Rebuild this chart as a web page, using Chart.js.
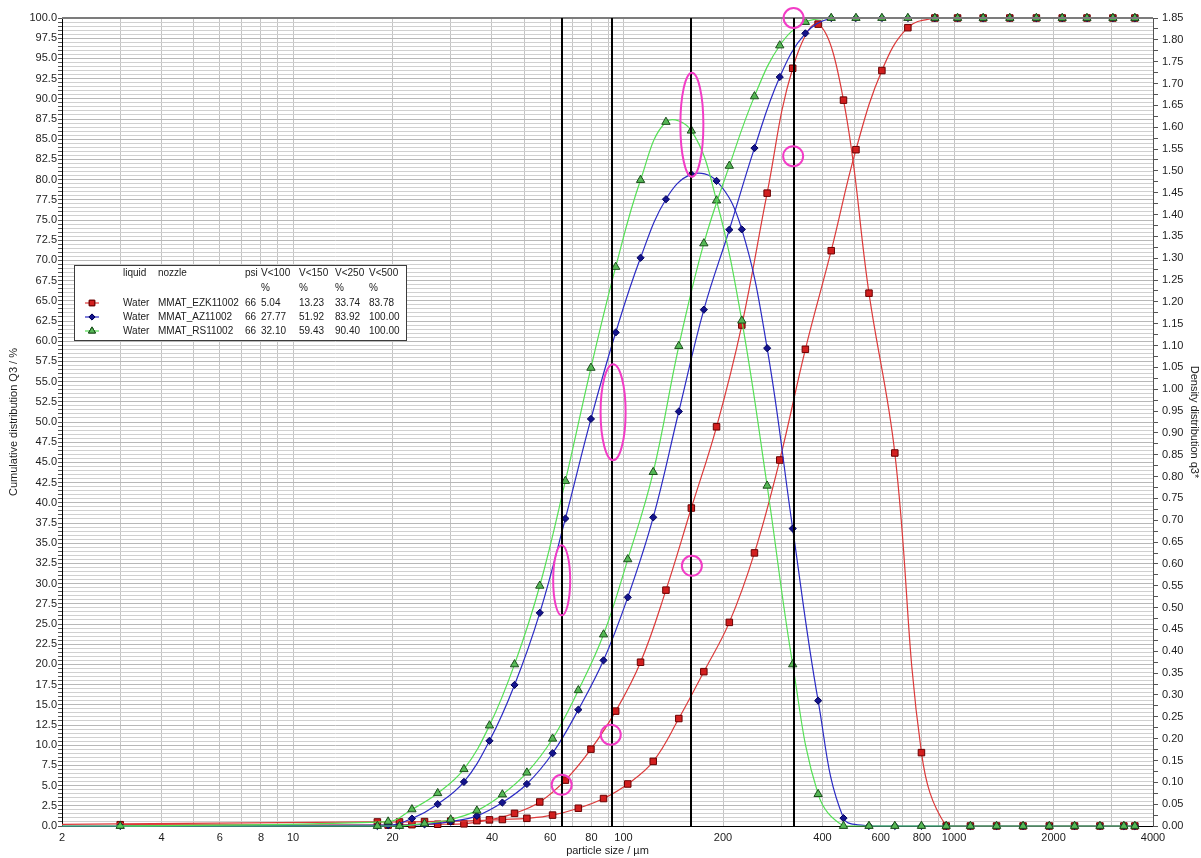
<!DOCTYPE html>
<html>
<head>
<meta charset="utf-8">
<title>particle size distribution</title>
<script src="https://cdn.jsdelivr.net/npm/chart.js@4.4.1/dist/chart.umd.min.js"></script>
<style>
  html, body { margin: 0; padding: 0; background: #fff; }
  #wrap { width: 1201px; height: 858px; }
</style>
</head>
<body>
<div id="wrap"><canvas id="psd" width="1201" height="858"></canvas></div>
<script>
// class upper edges (cumulative Q3) and class centres (density q3*), µm
const cumSizes = [0.5, 18, 21, 25, 30, 36, 43, 51, 61, 73, 87, 103, 123, 147, 175, 209, 249, 297, 355, 425, 505, 605, 725, 875, 1025, 1225, 1475, 1775, 2125, 2525, 3025, 3525];
const denSizes = [3, 19.4, 22.9, 27.4, 32.9, 39.3, 46.8, 55.8, 66.7, 79.7, 94.7, 112.6, 134.4, 160.4, 191.2, 228, 272, 325, 388, 463, 553, 662, 797, 947, 1121, 1345, 1618, 1942, 2316, 2764, 3265, 3525];

// MMAT_EZK11002
const ezkCum = [0, 0.5, 0.5, 0.55, 0.6, 0.66, 0.8, 0.95, 1.35, 2.2, 3.4, 5.2, 8.0, 13.3, 19.1, 25.2, 33.8, 45.3, 59.0, 71.2, 83.7, 93.5, 98.8, 100, 100, 100, 100, 100, 100, 100, 100, 100];
const ezkDen = [0.003, 0.002, 0.003, 0.004, 0.005, 0.014, 0.029, 0.055, 0.105, 0.176, 0.263, 0.375, 0.54, 0.728, 0.914, 1.147, 1.449, 1.735, 1.836, 1.662, 1.22, 0.854, 0.168, 0, 0, 0, 0, 0, 0, 0, 0, 0];
// MMAT_AZ11002
const azCum = [0, 0, 0.05, 0.2, 0.55, 1.25, 2.9, 5.2, 9.0, 14.4, 20.5, 28.3, 38.2, 51.3, 63.9, 73.8, 83.9, 92.7, 98.1, 100, 100, 100, 100, 100, 100, 100, 100, 100, 100, 100, 100, 100];
const azDen = [0, 0.002, 0.017, 0.05, 0.101, 0.195, 0.323, 0.488, 0.704, 0.932, 1.13, 1.301, 1.435, 1.492, 1.477, 1.366, 1.094, 0.681, 0.287, 0.018, 0, 0, 0, 0, 0, 0, 0, 0, 0, 0, 0, 0];
// MMAT_RS11002
const rsCum = [0, 0, 0, 0.3, 0.8, 1.9, 3.9, 6.6, 10.8, 16.8, 23.7, 33.0, 43.8, 59.4, 72.1, 81.7, 90.3, 96.6, 99.5, 100, 100, 100, 100, 100, 100, 100, 100, 100, 100, 100, 100, 100];
const rsDen = [0, 0.010, 0.038, 0.075, 0.13, 0.23, 0.37, 0.55, 0.79, 1.049, 1.28, 1.479, 1.612, 1.592, 1.432, 1.157, 0.779, 0.37, 0.073, 0, 0, 0, 0, 0, 0, 0, 0, 0, 0, 0, 0, 0];

// legend table
const liquids = ['Water', 'Water', 'Water'];
const nozzles = ['MMAT_EZK11002', 'MMAT_AZ11002', 'MMAT_RS11002'];
const pressures = ['66', '66', '66'];
const below100 = ['5.04', '27.77', '32.10'];
const below150 = ['13.23', '51.92', '59.43'];
const below250 = ['33.74', '83.92', '90.40'];
const below500 = ['83.78', '100.00', '100.00'];

// x axis ticks
const xGrid = [2, 3, 4, 5, 6, 7, 8, 9, 10, 20, 30, 40, 50, 60, 70, 80, 90, 100, 200, 300, 400, 500, 600, 700, 800, 900, 1000, 2000, 3000, 4000];
const xLabels = [2, 4, 6, 8, 10, 20, 40, 60, 80, 100, 200, 400, 600, 800, 1000, 2000, 4000];

// vertical marker lines (µm) and hand-drawn rings (µm, %)
const refSizes = [65, 92, 160, 328];
const ringSizes = [327, 161, 326, 93, 65, 161, 91.5, 65];
const ringLevels = [100, 86.8, 82.9, 51.2, 30.4, 32.2, 11.3, 5.1];
const ringRx = [10, 11.5, 10, 12.5, 8.5, 10, 10, 10];
const ringRy = [10, 52, 10, 48, 35, 10, 10, 10];

const RED = { line: '#dc3a3a', fill: '#d21f1f', edge: '#6a0000', style: 'rect', r: 4.6 };
const BLUE = { line: '#2b2bc4', fill: '#14148c', edge: '#00005a', style: 'rectRot', r: 3.6 };
const GREEN = { line: '#55e055', fill: '#56b856', edge: '#1b4d1b', style: 'triangle', r: 4.8 };

function pts(xs, ys) {
  return xs.map((v, i) => ({ x: v, y: ys[i] }));
}

function series(label, xs, ys, axis, c) {
  return {
    label: label,
    data: pts(xs, ys),
    yAxisID: axis,
    borderColor: c.line,
    borderWidth: 1.2,
    backgroundColor: c.fill,
    pointStyle: c.style,
    pointRadius: c.r,
    pointBackgroundColor: c.fill,
    pointBorderColor: c.edge,
    pointBorderWidth: 1,
    tension: 0.4,
    fill: false,
    clip: { left: 0, top: 8, right: 8, bottom: 8 }
  };
}

const overlay = {
  id: 'overlay',
  afterDatasetsDraw(chart) {
    const { ctx, chartArea: a, scales } = chart;
    const x = scales.x, y = scales.y;
    ctx.save();
    // frame top
    ctx.strokeStyle = '#7c7c7c';
    ctx.lineWidth = 2;
    ctx.beginPath();
    ctx.moveTo(a.left, a.top);
    ctx.lineTo(a.right, a.top);
    ctx.stroke();
    // black size markers
    ctx.strokeStyle = '#000';
    ctx.lineWidth = 2;
    refSizes.forEach(v => {
      const px = Math.round(x.getPixelForValue(v));
      ctx.beginPath();
      ctx.moveTo(px, a.top);
      ctx.lineTo(px, a.bottom);
      ctx.stroke();
    });
    // pink rings
    ctx.strokeStyle = '#f23cc6';
    ctx.lineWidth = 2;
    ringSizes.forEach((v, i) => {
      ctx.beginPath();
      ctx.ellipse(x.getPixelForValue(v), y.getPixelForValue(ringLevels[i]), ringRx[i], ringRy[i], 0, 0, Math.PI * 2);
      ctx.stroke();
    });
    ctx.restore();
  },
  afterDraw(chart) {
    const ctx = chart.ctx;
    const bx = 74, by = 265, bw = 332, bh = 75;
    ctx.save();
    ctx.fillStyle = '#fff';
    ctx.fillRect(bx, by, bw, bh);
    ctx.strokeStyle = '#3c3c3c';
    ctx.lineWidth = 1;
    ctx.strokeRect(bx + 0.5, by + 0.5, bw, bh);

    ctx.font = '10px "Liberation Sans", Arial, sans-serif';
    ctx.fillStyle = '#202020';
    ctx.textBaseline = 'middle';
    const cols = [123, 158, 245, 261, 299, 335, 369];
    const head = ['liquid', 'nozzle', 'psi', 'V<100', 'V<150', 'V<250', 'V<500'];
    head.forEach((t, i) => ctx.fillText(t, cols[i], 273));
    for (let i = 3; i < 7; i++) ctx.fillText('%', cols[i], 288);

    const looks = [RED, BLUE, GREEN];
    const rowY = [303, 317, 331];
    nozzles.forEach((n, i) => {
      const cy = rowY[i];
      const c = looks[i];
      ctx.strokeStyle = c.line;
      ctx.lineWidth = 1.2;
      ctx.beginPath();
      ctx.moveTo(85, cy);
      ctx.lineTo(99, cy);
      ctx.stroke();
      ctx.fillStyle = c.fill;
      ctx.strokeStyle = c.edge;
      ctx.lineWidth = 1;
      Chart.helpers.drawPoint(ctx, { pointStyle: c.style, radius: c.r * 0.85, borderWidth: 1 }, 92, cy);
      ctx.fill();
      ctx.stroke();
      ctx.fillStyle = '#202020';
      const cells = [liquids[i], n, pressures[i], below100[i], below150[i], below250[i], below500[i]];
      cells.forEach((t, k) => ctx.fillText(t, cols[k], cy));
    });
    ctx.restore();
  }
};

Chart.defaults.font.family = '"Liberation Sans", Arial, sans-serif';
Chart.defaults.font.size = 11;
Chart.defaults.color = '#1c1c1c';

new Chart(document.getElementById('psd'), {
  type: 'line',
  data: {
    datasets: [
      series('RS11002 Q3', cumSizes, rsCum, 'y', GREEN),
      series('RS11002 q3*', denSizes, rsDen, 'y2', GREEN),
      series('AZ11002 Q3', cumSizes, azCum, 'y', BLUE),
      series('AZ11002 q3*', denSizes, azDen, 'y2', BLUE),
      series('EZK11002 Q3', cumSizes, ezkCum, 'y', RED),
      series('EZK11002 q3*', denSizes, ezkDen, 'y2', RED)
    ]
  },
  options: {
    responsive: false,
    animation: false,
    devicePixelRatio: 1,
    layout: { padding: { top: 18, left: 0, right: 0, bottom: 0 } },
    plugins: { legend: { display: false }, tooltip: { enabled: false } },
    scales: {
      x: {
        type: 'logarithmic',
        min: 2,
        max: 4000,
        afterBuildTicks: s => { s.ticks = xGrid.map(v => ({ value: v })); },
        afterFit: s => { s.height = 32; },
        ticks: {
          autoSkip: false,
          maxRotation: 0,
          padding: 5,
          callback: v => xLabels.includes(v) ? String(v) : ''
        },
        grid: { color: '#c4c4c4', drawTicks: false },
        border: { color: '#000' },
        title: { display: true, text: 'particle size / µm', padding: { top: 0, bottom: 0 } }
      },
      y: {
        type: 'linear',
        position: 'left',
        min: 0,
        max: 100,
        afterBuildTicks: s => {
          s.ticks = [];
          for (let v = 0; v <= 100; v += 0.5) s.ticks.push({ value: v });
        },
        afterFit: s => { s.width = 62; },
        ticks: {
          autoSkip: false,
          padding: 1,
          callback: v => (v % 2.5 === 0 ? v.toFixed(1) : '')
        },
        grid: {
          color: c => (c.tick && c.tick.value % 2.5 === 0 ? '#b8b8b8' : '#d0d0d0'),
          tickColor: '#555',
          tickLength: 4
        },
        border: { color: '#000' },
        title: { display: true, text: 'Cumulative distribution Q3 / %', padding: { top: 7, bottom: 0 } }
      },
      y2: {
        type: 'linear',
        position: 'right',
        min: 0,
        max: 1.85,
        afterBuildTicks: s => {
          s.ticks = [];
          for (let k = 0; k <= 74; k++) s.ticks.push({ value: k * 0.025 });
        },
        afterFit: s => { s.width = 48; },
        ticks: {
          autoSkip: false,
          padding: 4,
          callback: v => (Math.round(v * 1000) % 50 === 0 ? v.toFixed(2) : '')
        },
        grid: { drawOnChartArea: false, tickColor: '#555', tickLength: 5 },
        border: { color: '#555' },
        title: { display: true, text: 'Density distribution q3*', padding: { top: 0, bottom: 0 } }
      }
    }
  },
  plugins: [overlay]
});
</script>
</body>
</html>
